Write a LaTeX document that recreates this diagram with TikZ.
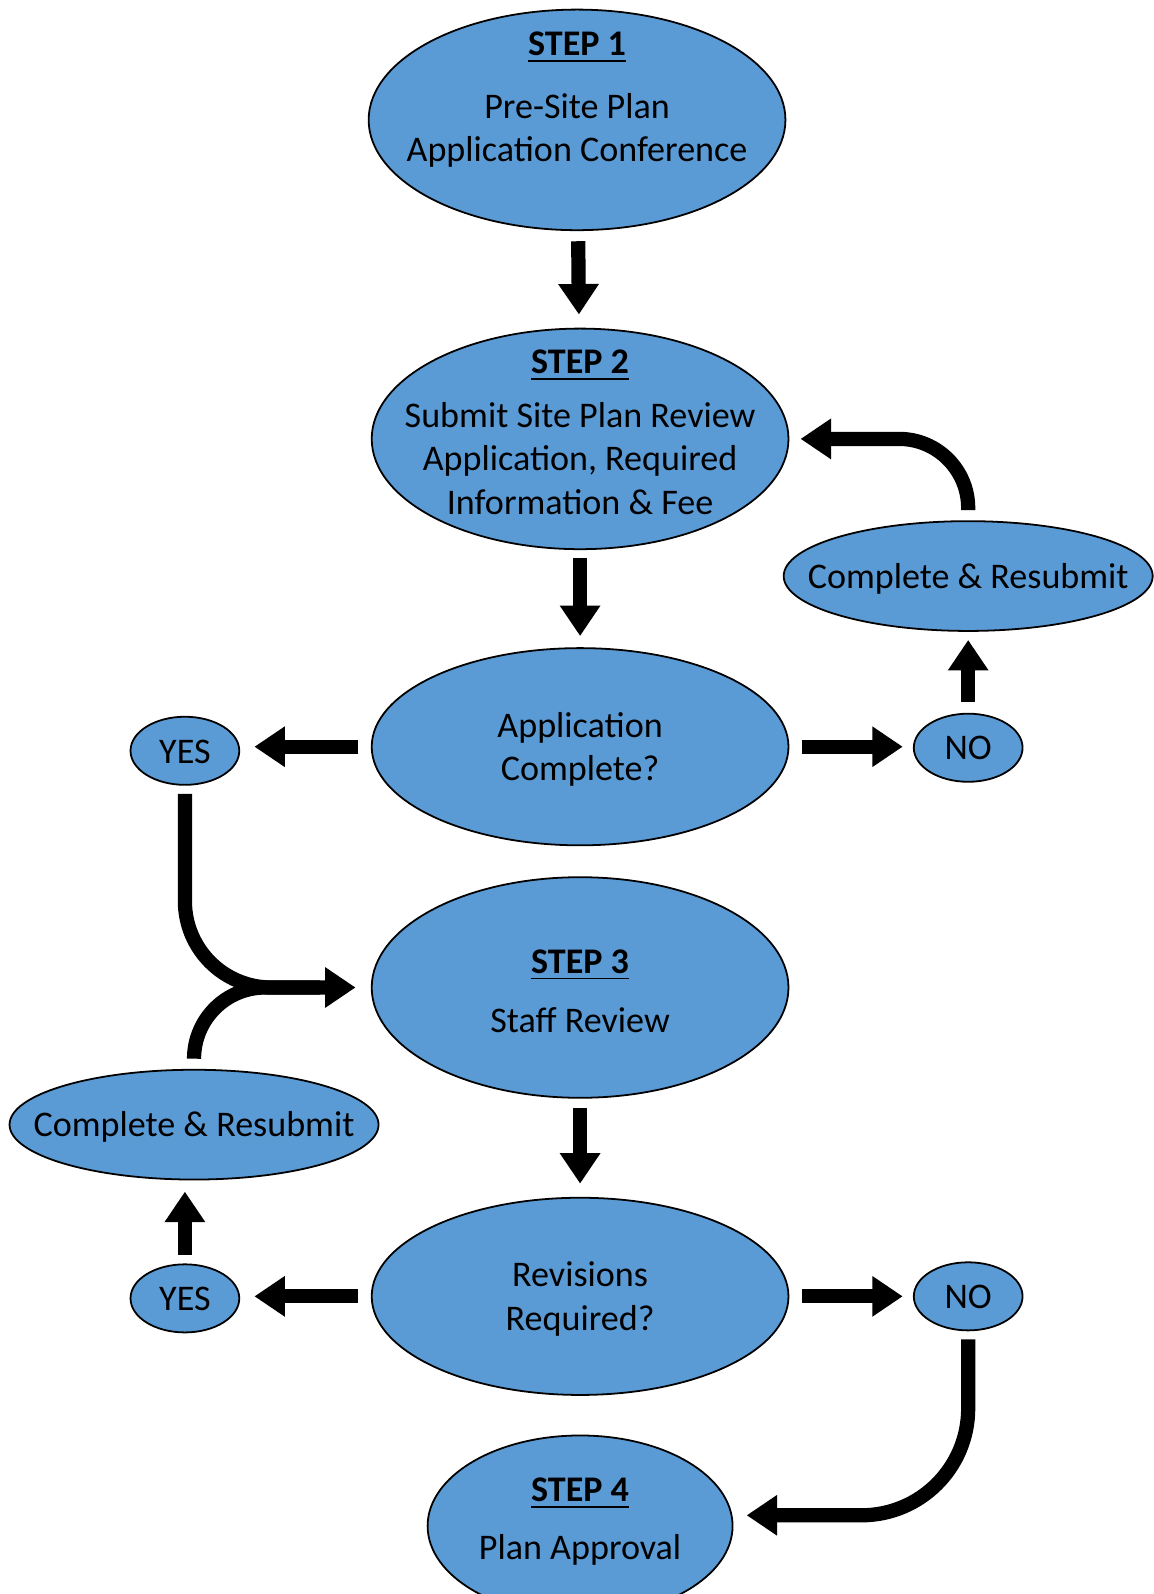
\documentclass[tikz,border=0pt]{standalone}
\usepackage{fontspec}
\setmainfont{Carlito}
\usetikzlibrary{arrows.meta}
\usetikzlibrary{shapes.geometric}

\definecolor{stepblue}{HTML}{5B9BD5}
% text that does not change the size of its oval
\newcommand{\ovaltext}[2][-3.5pt]{\smash{\makebox[0pt]{\raisebox{#1}{\begin{tabular}{@{}c@{}}#2\end{tabular}}}}}

\begin{document}
\begin{tikzpicture}[x=0.01cm, y=-0.01cm,
  oval/.style={ellipse, draw=black, line width=0.5pt, fill=stepblue, inner sep=0pt, font=\fontsize{10.1}{12.1}\selectfont},
  bigoval/.style={oval, minimum width=4.1cm, minimum height=2.17cm},
  askoval/.style={oval, minimum width=4.1cm, minimum height=1.94cm},
  redooval/.style={oval, minimum width=3.63cm, minimum height=1.08cm},
  yesno/.style={oval, minimum width=1.07cm, minimum height=0.67cm},
  flow/.style={line width=0.14cm, -{Triangle[length=0.3cm, width=0.38cm]}},
  merge/.style={line width=0.14cm}]
\useasboundingbox (0,0) rectangle (1135,1569);

% main column
\node[bigoval] (s1) at (568,118) {\ovaltext[3pt]{\underline{\textbf{STEP 1}}\\[5.5pt] Pre-Site Plan\\ Application Conference}};
\node[bigoval] (s2) at (571,432) {\ovaltext[-1.5pt]{\underline{\textbf{STEP 2}}\\[3pt] Submit Site Plan Review\\ Application, Required\\ Information \& Fee}};
\node[askoval] (app) at (571,735) {\ovaltext{Application\\ Complete?}};
\node[bigoval] (s3) at (571,972) {\ovaltext[-4.4pt]{\underline{\textbf{STEP 3}}\\[4.5pt] Staff Review}};
\node[askoval] (rev) at (571,1276) {\ovaltext{Revisions\\ Required?}};
\node[oval, minimum width=3.0cm, minimum height=1.78cm] (s4) at (571,1502) {\ovaltext[-1.4pt]{\underline{\textbf{STEP 4}}\\[4pt] Plan Approval}};

% side branches
\node[yesno] (yesA) at (182,739) {\ovaltext{YES}};
\node[yesno] (noA) at (953,736) {\ovaltext{NO}};
\node[redooval] (crA) at (953,567) {\ovaltext{Complete \& Resubmit}};
\node[yesno] (yesB) at (182,1278) {\ovaltext{YES}};
\node[yesno] (noB) at (953,1276) {\ovaltext{NO}};
\node[redooval] (crB) at (191,1107) {\ovaltext{Complete \& Resubmit}};

\draw[flow, shorten <=0.1cm, shorten >=0.13cm] (s1) -- (s2);
\draw[flow, shorten <=0.08cm, shorten >=0.11cm] (s2) -- (app);
\draw[flow, shorten <=0.13cm, shorten >=0.14cm] (app.west) -- (app.west -| yesA.east);
\draw[flow, shorten <=0.12cm, shorten >=0.1cm] (app.east) -- (app.east -| noA.west);
\draw[flow, shorten <=0.11cm, shorten >=0.08cm] (noA) -- (crA);
\draw[flow, rounded corners=0.68cm, shorten <=0.1cm, shorten >=0.11cm] (crA.north) |- (s2.east);
\draw[flow, rounded corners=0.85cm, shorten <=0.08cm, shorten >=0.15cm] (yesA.south) |- (s3.west);
\draw[merge, rounded corners=0.7cm, shorten <=0.1cm, shorten >=0.5cm] (crB.north) |- (s3.west);
\draw[flow, shorten <=0.09cm, shorten >=0.13cm] (s3) -- (rev);
\draw[flow, shorten <=0.13cm, shorten >=0.14cm] (rev.west) -- (rev.west -| yesB.east);
\draw[flow, shorten <=0.12cm, shorten >=0.1cm] (rev.east) -- (rev.east -| noB.west);
\draw[flow, shorten <=0.08cm, shorten >=0.11cm] (yesB.north) -- (yesB.north |- crB.south);
\draw[flow, rounded corners=1.05cm, shorten <=0.08cm, shorten >=0.14cm] (noB.south) |- (s4.4);

\end{tikzpicture}
\end{document}
